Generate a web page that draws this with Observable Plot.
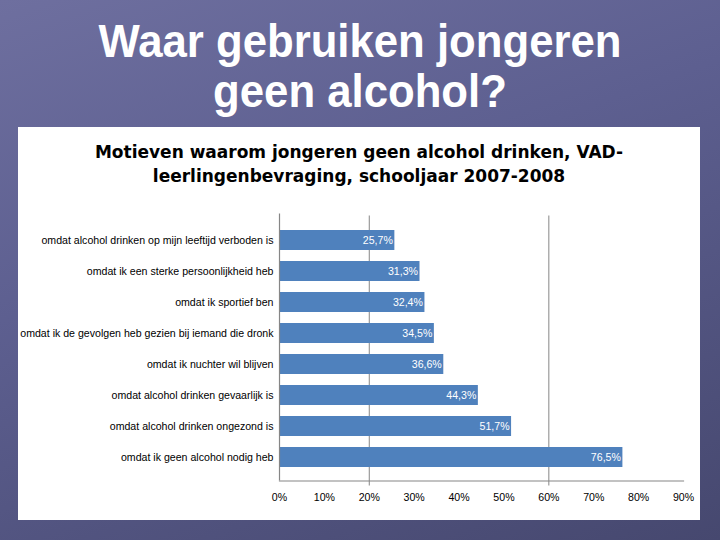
<!DOCTYPE html>
<html>
<head>
<meta charset="utf-8">
<script src="https://cdn.jsdelivr.net/npm/d3@7"></script>
<script src="https://cdn.jsdelivr.net/npm/@observablehq/plot@0.6"></script>
<style>
  html, body { margin: 0; padding: 0; }
  body {
    width: 720px; height: 540px; overflow: hidden; position: relative;
    background: linear-gradient(160deg, #6e6f9f 0%, #5d5f90 40%, #46486f 100%);
    font-family: "Liberation Sans", Arial, sans-serif;
  }
  #title {
    position: absolute; left: 0; top: 16px; width: 720px; text-align: center;
    color: #ffffff; font-size: 46px; line-height: 50px; font-weight: bold;
    transform: scaleX(0.95); transform-origin: 360px 0;
  }
  #panel {
    position: absolute; left: 18px; top: 127px; width: 682px; height: 393px;
    background: #ffffff;
  }
  #ptitle {
    position: absolute; left: 0; top: 13px; width: 682px; text-align: center;
    font-family: "DejaVu Sans", Verdana, sans-serif; font-weight: bold;
    font-size: 17px; line-height: 24px; color: #000;
  }
  #chart { position: absolute; left: 0; top: 73px; }
</style>
</head>
<body>
<div id="title">Waar gebruiken jongeren<br>geen alcohol?</div>
<div id="panel">
  <div id="ptitle">Motieven waarom jongeren geen alcohol drinken, VAD-<br>leerlingenbevraging, schooljaar 2007-2008</div>
  <div id="chart"></div>
</div>
<script>
const categories = [
  "omdat alcohol drinken op mijn leeftijd verboden is",
  "omdat ik een sterke persoonlijkheid heb",
  "omdat ik sportief ben",
  "omdat ik de gevolgen heb gezien bij iemand die dronk",
  "omdat ik nuchter wil blijven",
  "omdat alcohol drinken gevaarlijk is",
  "omdat alcohol drinken ongezond is",
  "omdat ik geen alcohol nodig heb"
];
const values = [0.257, 0.313, 0.324, 0.345, 0.366, 0.443, 0.517, 0.765];
const valueLabels = ["25,7%", "31,3%", "32,4%", "34,5%", "36,6%", "44,3%", "51,7%", "76,5%"];
const xTicks = [0, 0.1, 0.2, 0.3, 0.4, 0.5, 0.6, 0.7, 0.8, 0.9];
const xTickLabels = ["0%", "10%", "20%", "30%", "40%", "50%", "60%", "70%", "80%", "90%"];
const gridTicks = [0.2, 0.6];

const data = categories.map((c, i) => ({cat: c, value: values[i], label: valueLabels[i]}));

const axisColor = "#868686";
const chart = Plot.plot({
  width: 682,
  height: 320,
  marginLeft: 261,
  marginRight: 17,
  marginTop: 15.5,
  marginBottom: 39.5,
  style: {fontFamily: "'Liberation Sans', Arial, sans-serif", fontSize: "10.6px", color: "#000", background: "transparent"},
  x: {domain: [0, 0.9], axis: null, label: null},
  y: {domain: categories, padding: 0.36, axis: null, label: null},
  marks: [
    Plot.ruleX(gridTicks, {stroke: axisColor, strokeWidth: 1, insetBottom: -5}),
    Plot.barX(data, {x: "value", y: "cat", fill: "#4f81bd"}),
    Plot.text(data, {x: "value", y: "cat", text: "label", fill: "#ffffff", textAnchor: "end", dx: -2, fontSize: 10.6}),
    Plot.axisY({tickSize: 0, tickPadding: 6, fontSize: 10.6, anchor: "left", label: null}),
    Plot.ruleX([0], {stroke: axisColor, strokeWidth: 1.2, insetTop: -2}),
    Plot.frame({anchor: "bottom", stroke: axisColor, strokeWidth: 1.2}),
    Plot.axisX(xTicks, {tickSize: 0, tickPadding: 12, fontSize: 10.6, tickFormat: (d, i) => xTickLabels[i], anchor: "bottom", label: null})
  ]
});
document.getElementById("chart").appendChild(chart);
</script>
</body>
</html>
